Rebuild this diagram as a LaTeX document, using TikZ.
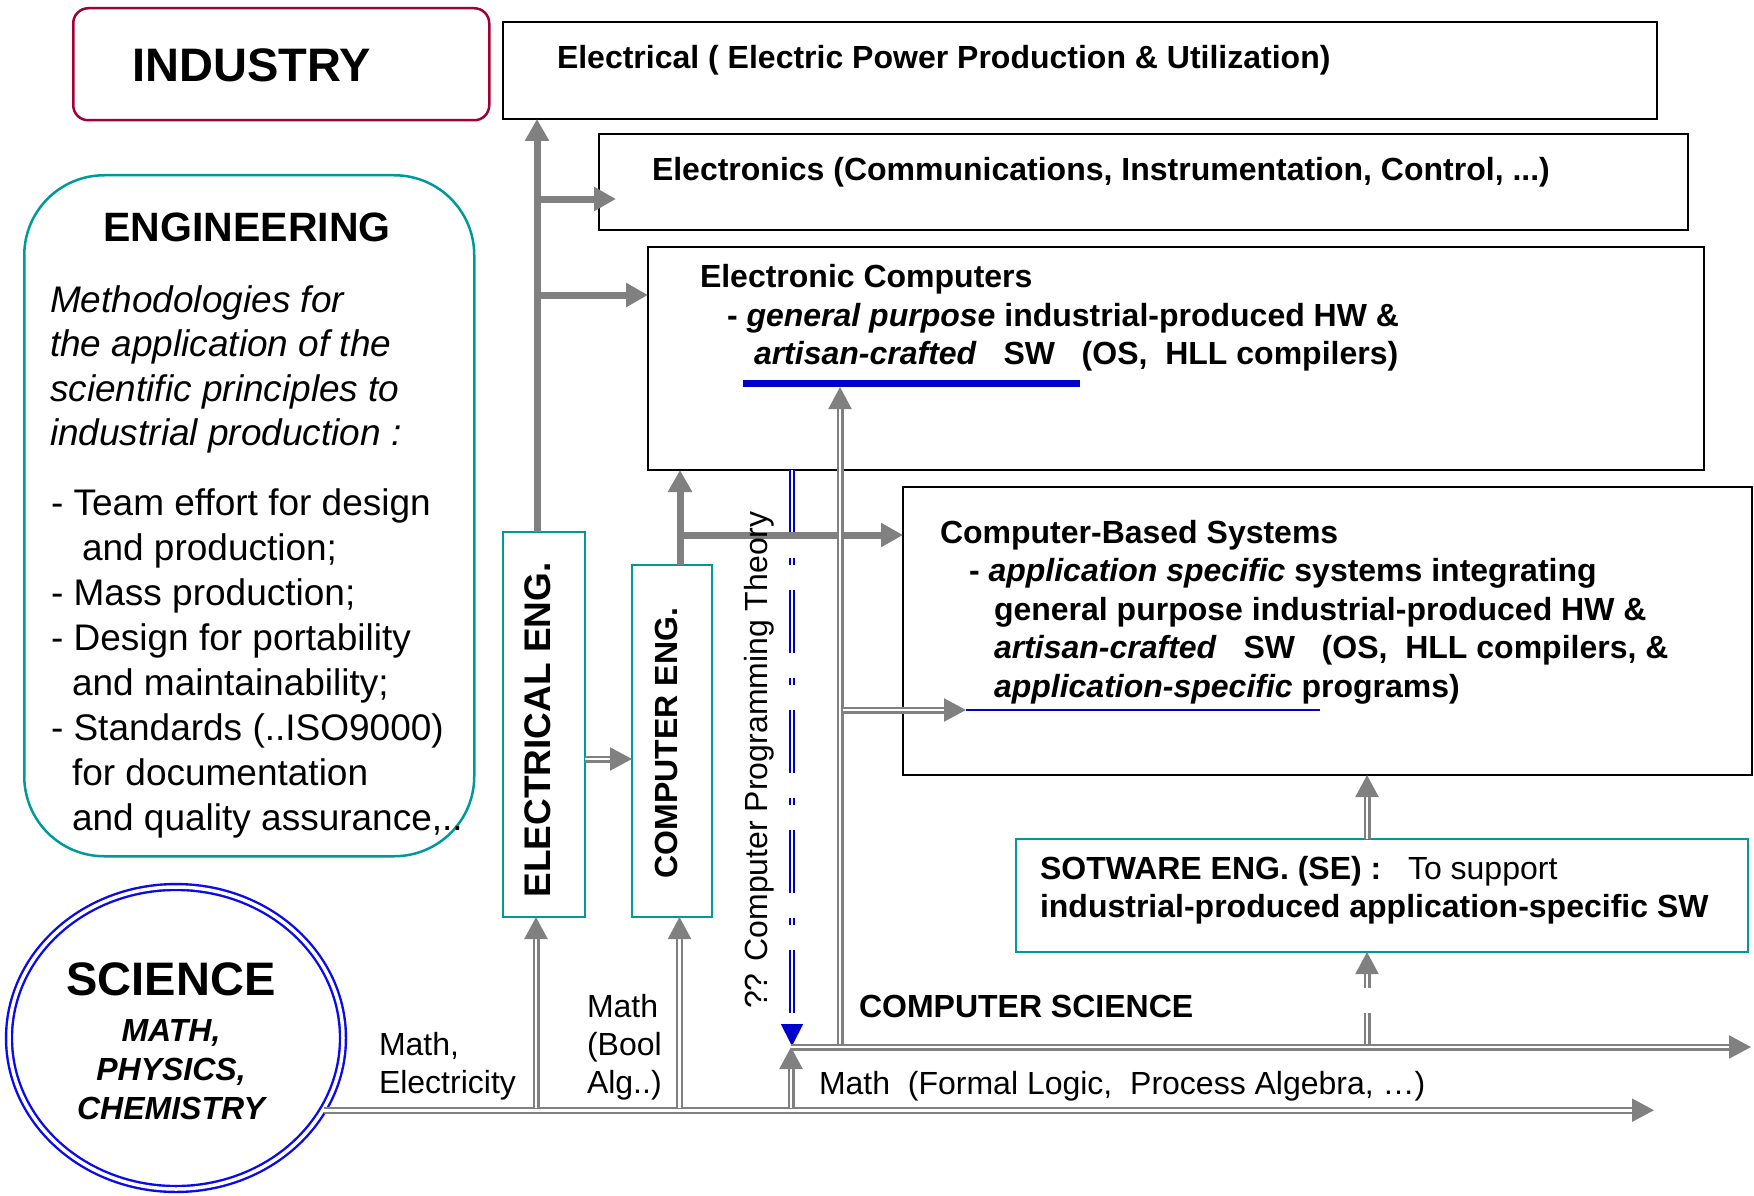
\documentclass[tikz,border=0pt]{standalone}
\usepackage{fontspec}
\setmainfont{Liberation Sans}
\usetikzlibrary{arrows.meta,shapes.geometric,calc}
\newcommand\fsz[1]{\fontsize{#1pt}{#1pt}\selectfont}
\definecolor{tealc}{RGB}{0,153,153}
\definecolor{indred}{RGB}{160,0,50}
\definecolor{arrgray}{RGB}{128,128,128}
\definecolor{lblue}{RGB}{0,0,204}
\definecolor{cblue}{RGB}{10,10,235}
\begin{document}
\begin{tikzpicture}[x=1pt,y=-1pt,
  bbox/.style={draw=black,line width=2.5pt,anchor=north west,inner sep=0pt,outer sep=0pt},
  tbox/.style={draw=tealc,line width=2.5pt,anchor=north west,inner sep=0pt,outer sep=0pt},
  thk/.style={draw=arrgray,line width=7pt,-{Triangle[length=22pt 0 0,width=23pt 0 0]}},
  dbl/.style={draw=arrgray,line width=2.2pt,double=white,double distance=2.6pt,-{Triangle[length=22pt 0 0,width=23pt 0 0]}},
  bdbl/.style={draw=lblue,line width=1.8pt,double=white,double distance=2.8pt,dash pattern=on 63pt off 25pt on 7pt off 25pt,-{Triangle[length=22pt 0 0,width=22pt 0 0]}},
  lbl/.style={inner sep=0pt,outer sep=0pt,anchor=base west,font=\fsz{32}},
  blbl/.style={lbl,font=\fsz{32}\bfseries},
  llbl/.style={lbl,font=\fsz{37}},
  ilbl/.style={lbl,font=\fsz{37}\itshape}]
\useasboundingbox (0,0) rectangle (1754,1196);

% ---------- boxes ----------
\node[draw=indred,line width=2.5pt,rounded corners=15pt,anchor=north west,inner sep=0pt,minimum width=416pt,minimum height=112pt] (ind) at (72,7) {};
\node[draw=tealc,line width=2.5pt,rounded corners=80pt,anchor=north west,inner sep=0pt,minimum width=450pt,minimum height=681pt] (eng) at (23,174) {};
\node[bbox,minimum width=1154pt,minimum height=97pt] (elec) at (503,22) {};
\node[bbox,minimum width=1089pt,minimum height=96pt] (etr) at (599,134) {};
\node[bbox,minimum width=1056pt,minimum height=223pt] (ec) at (648,247) {};
\node[bbox,minimum width=849pt,minimum height=288pt] (cbs) at (903,487) {};
\node[tbox,minimum width=732pt,minimum height=113pt] (se) at (1016,839) {};
\node[tbox,minimum width=82pt,minimum height=385pt] (ee) at (503,532) {};
\node[tbox,minimum width=80pt,minimum height=352pt] (ce) at (632,565) {};
\node[ellipse,draw=cblue,line width=2.4pt,double=white,double distance=3.5pt,inner sep=0pt,minimum width=334pt,minimum height=302pt] (sci) at (176,1038) {};

% ---------- coordinates ----------
\coordinate (a1) at (537,532);
\coordinate (b1) at (537,199);
\coordinate (b1t) at (616,199);
\coordinate (b2) at (537,295);
\coordinate (c1) at (680,565);
\coordinate (c2) at (680,535);
\coordinate (mEnd) at (1654,1111);
\coordinate (m1) at (536,1108);
\coordinate (m2) at (679.5,1108);
\coordinate (m3) at (791,1108);
\coordinate (cs0) at (791,1047);
\coordinate (csEnd) at (1751,1047);
\coordinate (v0) at (840,1044);
\coordinate (v0t) at (840,387);
\coordinate (v1) at (843,710);
\coordinate (v1t) at (966,710);
\coordinate (ulB) at (1320,710);
\coordinate (ecA) at (743,383);
\coordinate (ecB) at (1080,383);
\coordinate (e1) at (585,759);
\coordinate (sx) at (1367,0);
\coordinate (sxb) at (1367,1044);
\coordinate (bx) at (792,0);
\coordinate (bxt) at (792,1046);

% ---------- blue dashed theory line ----------
\draw[bdbl] (bx |- ec.south) -- (bxt);

% ---------- thick arrows ----------
\draw[thk] (a1) -- (a1 |- elec.south);
\draw[thk] (b1) -- (b1t);
\draw[thk] (b2) -- (b2 -| ec.west);
\draw[thk] (c1) -- (c1 |- ec.south);
\draw[thk] (c2) -- (c2 -| cbs.west);

% ---------- double arrows ----------
\draw[dbl] (sci.-26.6) -- (sci.-26.6 -| mEnd);
\draw[dbl] (m1) -- (m1 |- ee.south);
\draw[dbl] (m2) -- (m2 |- ce.south);
\draw[dbl] (m3) -- (cs0);
\draw[dbl] (cs0) -- (csEnd);
\draw[dbl] (v0) -- (v0t);
\draw[dbl] (v1) -- (v1t);
\draw[dbl] (e1) -- (e1 -| ce.west);
\draw[dbl] (sx |- se.north) -- (sx |- cbs.south);
\draw[dbl,dash pattern=on 31pt off 25pt on 200pt] (sxb) -- (sx |- se.south);

% ---------- underlines ----------
\draw[lblue,line width=7pt] (ecA) -- (ecB);
\draw[lblue,line width=2.5pt] (v1t) -- (ulB);

% ---------- texts ----------
\node[inner sep=0pt,anchor=base,font=\fsz{47}\bfseries] (tind) at (252,82) {INDUSTRY};
\node[inner sep=0pt,anchor=base,font=\fsz{41}\bfseries] (teng) at (247,241) {ENGINEERING};
\node[ilbl] (m01) at (50,312) {Methodologies for};
\node[ilbl] (m02) at (50,356) {the application of the};
\node[ilbl] (m03) at (50,401) {scientific principles to};
\node[ilbl] (m04) at (50,445) {industrial production :};
\node[llbl] (l01) at (51,515) {- Team effort for design};
\node[llbl] (l02) at (82,560) {and production;};
\node[llbl] (l03) at (51,605) {- Mass production;};
\node[llbl] (l04) at (51,650) {- Design for portability};
\node[llbl] (l05) at (72,695) {and maintainability;};
\node[llbl] (l06) at (51,740) {- Standards (..ISO9000)};
\node[llbl] (l07) at (72,785) {for documentation};
\node[llbl] (l08) at (72,830) {and quality assurance,..};

\node[blbl] (telec) at (557,69) {Electrical ( Electric Power Production \& Utilization)};
\node[blbl] (tetr) at (652,180) {Electronics (Communications, Instrumentation, Control, ...)};
\node[blbl] (tec1) at (700,287) {Electronic Computers};
\node[blbl] (tec2) at (727,326) {- \textit{general purpose} industrial-produced HW \&};
\node[blbl] (tec3) at (754,364) {\textit{artisan-crafted}\ \ \ SW\ \ \ (OS,\ \ HLL compilers)};
\node[blbl] (tcb1) at (940,543) {Computer-Based Systems};
\node[blbl] (tcb2) at (969,581) {- \textit{application specific} systems integrating};
\node[blbl] (tcb3) at (994,620) {general purpose industrial-produced HW \&};
\node[blbl] (tcb4) at (994,658) {\textit{artisan-crafted}\ \ \ SW\ \ \ (OS,\ \ HLL compilers, \&};
\node[blbl] (tcb5) at (994,697) {\textit{application-specific} programs)};
\node[blbl] (tse1) at (1040,879) {SOTWARE ENG. (SE) :\ \ \ {\mdseries To support}};
\node[blbl] (tse2) at (1040,917) {industrial-produced application-specific SW};
\node[blbl] (tcs) at (859,1017) {COMPUTER SCIENCE};
\node[lbl] (tmf) at (819,1094) {Math\ \ (Formal Logic,\ \ Process Algebra, …)};
\node[lbl] (tme1) at (379,1055) {Math,};
\node[lbl] (tme2) at (379,1093) {Electricity};
\node[lbl] (tmb1) at (587,1017) {Math};
\node[lbl] (tmb2) at (587,1055) {(Bool};
\node[lbl] (tmb3) at (587,1093) {Alg..)};
\node[inner sep=0pt,anchor=base,font=\fsz{47}\bfseries] (tsci) at (171,995) {SCIENCE};
\node[inner sep=0pt,anchor=base,font=\fsz{32}\bfseries\itshape] (tsc1) at (171,1041) {MATH,};
\node[inner sep=0pt,anchor=base,font=\fsz{32}\bfseries\itshape] (tsc2) at (171,1080) {PHYSICS,};
\node[inner sep=0pt,anchor=base,font=\fsz{32}\bfseries\itshape] (tsc3) at (171,1119) {CHEMISTRY};
\node[inner sep=0pt,rotate=90,font=\fsz{37}\bfseries] (tee) at (538,730) {ELECTRICAL ENG.};
\node[inner sep=0pt,rotate=90,font=\fsz{32}\bfseries] (tce) at (666,743) {COMPUTER ENG.};
\node[inner sep=0pt,rotate=90,anchor=base west,font=\fsz{32}] (tcpt) at (767,1009) {?? Computer Programming Theory};
\end{tikzpicture}
\end{document}
